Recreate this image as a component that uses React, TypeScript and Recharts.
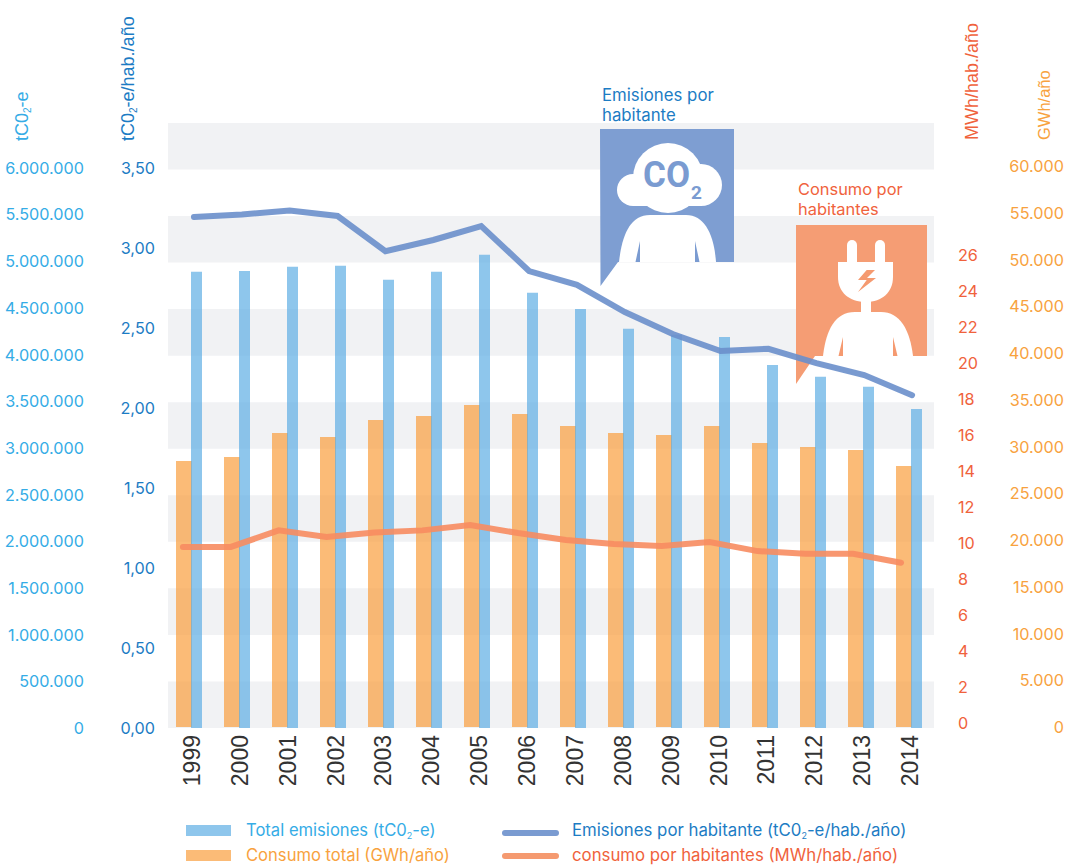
import { Bar, ComposedChart, Legend, Line, ReferenceArea, XAxis, YAxis } from "recharts";

const years = ["1999", "2000", "2001", "2002", "2003", "2004", "2005", "2006", "2007", "2008", "2009", "2010", "2011", "2012", "2013", "2014"];
const totalEmisiones = [4886000, 4896000, 4939000, 4950000, 4800000, 4886000, 5068000, 4661000, 4489000, 4275000, 4211000, 4189000, 3889000, 3761000, 3654000, 3418000];
const consumoTotal = [28450, 28880, 31440, 31020, 32830, 33260, 34440, 33480, 32190, 31440, 31230, 32190, 30370, 29950, 29630, 27910];
const emisionesHab = [3.194, 3.21, 3.234, 3.2, 2.98, 3.05, 3.1375, 2.856, 2.77, 2.6, 2.4625, 2.356, 2.37, 2.28, 2.206, 2.08];
const consumoHab = [9.78, 9.78, 10.7, 10.33, 10.58, 10.7, 11, 10.55, 10.17, 9.94, 9.83, 10.05, 9.55, 9.4, 9.4, 8.9];

const totalTicks = [0, 500000, 1000000, 1500000, 2000000, 2500000, 3000000, 3500000, 4000000, 4500000, 5000000, 5500000, 6000000];
const habTicks = [0, 0.5, 1, 1.5, 2, 2.5, 3, 3.5];
const mwhTicks = [0, 2, 4, 6, 8, 10, 12, 14, 16, 18, 20, 22, 24, 26];
const gwhTicks = [0, 5000, 10000, 15000, 20000, 25000, 30000, 35000, 40000, 45000, 50000, 55000, 60000];
// grey stripes, read on the tCO2-e/hab. axis
const bands = [[0, 0.2909], [0.5818, 0.8727], [1.1636, 1.4545], [1.7454, 2.0363], [2.3272, 2.6181], [2.909, 3.2], [3.4908, 3.78125]];

const data = years.map((year, i) => ({
  year,
  totalEmisiones: totalEmisiones[i],
  consumoTotal: consumoTotal[i],
  emisionesHab: emisionesHab[i],
  consumoHab: consumoHab[i],
}));

const TICK_FONT = "Inter, sans-serif";
const TITLE_FONT = "'Liberation Sans', sans-serif";
const SKY = "#35ace6";
const BLUE = "#1c7cc4";
const RED = "#f0623c";
const AMBER = "#f8a23e";
const PANEL_BLUE = "#7a9bd1";
const PANEL_ORANGE = "#f59a70";

const dots = (v: number) => v.toLocaleString("de-DE");
const comma = (v: number) => v.toFixed(2).replace(".", ",");
const plain = (v: number) => String(v);

// rotated axis title, "2" drawn as a subscript
function Title({ x, y, color, before, after, size = 18, font = TITLE_FONT }: any) {
  return (
    <text transform={`translate(${x},${y}) rotate(-90)`} fill={color} fontFamily={font} fontSize={size}>
      {before}
      {after !== undefined && <tspan fontSize={10} dy={3}>2</tspan>}
      {after !== undefined && <tspan dy={-3}>{after}</tspan>}
    </text>
  );
}

// tick with a fixed text edge, so each scale only sets the height
function ValueTick({ y, payload, edge, anchor, color, format }: any) {
  return (
    <text x={edge} y={y + 6} textAnchor={anchor} fill={color} fontFamily={TICK_FONT} fontSize={16.2}>
      {format(payload.value)}
    </text>
  );
}

function YearTick({ x, y, payload }: any) {
  return (
    <text transform={`translate(${x + 8},${y - 2}) rotate(-90)`} textAnchor="end" fill="#333" fontFamily={TITLE_FONT} fontSize={23}>
      {payload.value}
    </text>
  );
}

function Callouts() {
  return (
    <g>
      <g opacity={0.97}>
        <path d="M600 129H734V262H618L600.5 286Z" fill={PANEL_BLUE} />
        <path d="M796 225H927V356H815L796 384Z" fill={PANEL_ORANGE} />
      </g>
      {/* CO2 person */}
      <g fill="#fff">
        <circle cx={668} cy={178} r={35} />
        <circle cx={633} cy={190} r={16} />
        <circle cx={701} cy={185} r={21} />
        <rect x={633} y={180} width={68} height={26} />
        <path d="M619 262C622 235 630 215 650 215H686C705 215 714 235 716 262Z" />
      </g>
      <path d="M640 241V262H635.5ZM695 241V262H699.5Z" fill={PANEL_BLUE} />
      <text x={643} y={187} fill={PANEL_BLUE} fontFamily="Roboto, sans-serif" fontWeight={700} fontSize={36} textLength={47} lengthAdjust="spacingAndGlyphs">CO</text>
      <text x={691} y={199} fill={PANEL_BLUE} fontFamily="Roboto, sans-serif" fontWeight={700} fontSize={19}>2</text>
      {/* plug person */}
      <g fill="#fff">
        <rect x={847} y={240} width={10} height={30} rx={5} />
        <rect x={875} y={240} width={10} height={30} rx={5} />
        <path d="M838 262H893V277C893 292 882 302 866 302C849 302 838 292 838 277Z" />
        <rect x={861} y={300} width={10} height={14} />
        <path d="M823 356C826 330 835 312 855 312H881C900 312 910 330 913 356Z" />
      </g>
      <path d="M843 337V356H838.5ZM893 337V356H897.5Z" fill={PANEL_ORANGE} />
      <path d="M866.7 270H875L867 278H876L858 292L866.7 280H858Z" fill={PANEL_ORANGE} />
      <text fill={BLUE} fontFamily={TICK_FONT} fontSize={16.8}>
        <tspan x={602} y={101}>Emisiones por</tspan>
        <tspan x={602} y={121}>habitante</tspan>
      </text>
      <text fill={RED} fontFamily={TICK_FONT} fontSize={16.4}>
        <tspan x={798} y={195}>Consumo por</tspan>
        <tspan x={798} y={215}>habitantes</tspan>
      </text>
    </g>
  );
}

function Key() {
  return (
    <svg width={1065} height={50} style={{ display: "block" }}>
      <g fontFamily={TICK_FONT} fontSize={16.6}>
        <rect x={186} y={5} width={45} height={11} fill="#8ec6ec" />
        <text x={246} y={16} fill={SKY}>Total emisiones (tC0<tspan fontSize={9} dy={3}>2</tspan><tspan dy={-3}>-e)</tspan></text>
        <rect x={186} y={30} width={45} height={11} fill="#fbbb77" />
        <text x={246} y={41} fill={AMBER}>Consumo total (GWh/año)</text>
        <line x1={505} x2={556} y1={13} y2={13} stroke={PANEL_BLUE} strokeWidth={6} strokeLinecap="round" />
        <text x={572} y={16} fill={BLUE} fontSize={16.8}>Emisiones por habitante (tC0<tspan fontSize={9} dy={3}>2</tspan><tspan dy={-3}>-e/hab./año)</tspan></text>
        <line x1={505} x2={556} y1={36} y2={36} stroke={PANEL_ORANGE} strokeWidth={6} strokeLinecap="round" />
        <text x={572} y={41} fill={RED} fontSize={16.8}>consumo por habitantes (MWh/hab./año)</text>
      </g>
    </svg>
  );
}

export default function App() {
  return (
    <div style={{ position: "absolute", left: 0, top: 0 }}>
      <ComposedChart width={1065} height={865} data={data} barGap={-1} margin={{ top: 123, right: 0, bottom: 27, left: 0 }}>
        <XAxis xAxisId="years" dataKey="year" interval={0} axisLine={false} tickLine={false} tickSize={0} tickMargin={9} tick={<YearTick />} height={60} />
        <XAxis xAxisId="bars" dataKey="year" hide height={0} padding={{ left: -3, right: 1 }} />
        <XAxis xAxisId="blueLine" dataKey="year" hide height={0} padding={{ left: 2, right: -2 }} />
        <XAxis xAxisId="orangeLine" dataKey="year" hide height={0} padding={{ left: -9, right: 9 }} />

        <YAxis yAxisId="total" width={100} domain={[0, 6480000]} ticks={totalTicks} interval={0} allowDataOverflow axisLine={false} tickLine={false} tick={<ValueTick edge={84} anchor="end" color={SKY} format={dots} />} />
        <YAxis yAxisId="hab" width={68} domain={[0, 3.78125]} ticks={habTicks} interval={0} allowDataOverflow axisLine={false} tickLine={false} tick={<ValueTick edge={155} anchor="end" color={BLUE} format={comma} />} />
        <YAxis yAxisId="mwh" orientation="right" width={60} domain={[-0.278, 33.33]} ticks={mwhTicks} interval={0} allowDataOverflow axisLine={false} tickLine={false} tick={<ValueTick edge={958} anchor="start" color={RED} format={plain} />} />
        <YAxis yAxisId="gwh" orientation="right" width={71} domain={[-107, 64600]} ticks={gwhTicks} interval={0} allowDataOverflow axisLine={false} tickLine={false} tick={<ValueTick edge={1064} anchor="end" color={AMBER} format={dots} />} />

        {bands.map(([from, to]) => (
          <ReferenceArea key={from} xAxisId="years" yAxisId="hab" y1={from} y2={to} fill="#f1f2f4" fillOpacity={1} stroke="none" zIndex={-50} />
        ))}

        <Callouts />

        <Bar xAxisId="bars" yAxisId="gwh" dataKey="consumoTotal" fill="#f99e3d" fillOpacity={0.7} barSize={16} isAnimationActive={false} />
        <Bar xAxisId="bars" yAxisId="total" dataKey="totalEmisiones" fill="#5eaee4" fillOpacity={0.7} barSize={11} isAnimationActive={false} />
        <Line xAxisId="blueLine" yAxisId="hab" dataKey="emisionesHab" stroke="#6a8fcb" strokeOpacity={0.9} strokeWidth={6} strokeLinecap="round" dot={false} isAnimationActive={false} />
        <Line xAxisId="orangeLine" yAxisId="mwh" dataKey="consumoHab" stroke="#f78c60" strokeOpacity={0.9} strokeWidth={6} strokeLinecap="round" dot={false} isAnimationActive={false} />

        <Title x={28} y={141} color={SKY} before="tC0" after="-e" />
        <Title x={134} y={141} color={BLUE} before="tC0" after="-e/hab./año" />
        <Title x={978} y={140} color={RED} before="MWh/hab./año" />
        <Title x={1050} y={140} color={AMBER} before="GWh/año" size={16.5} />

        <Legend content={<Key />} wrapperStyle={{ position: "absolute", left: 0, top: 820, width: 1065 }} />
      </ComposedChart>
    </div>
  );
}
